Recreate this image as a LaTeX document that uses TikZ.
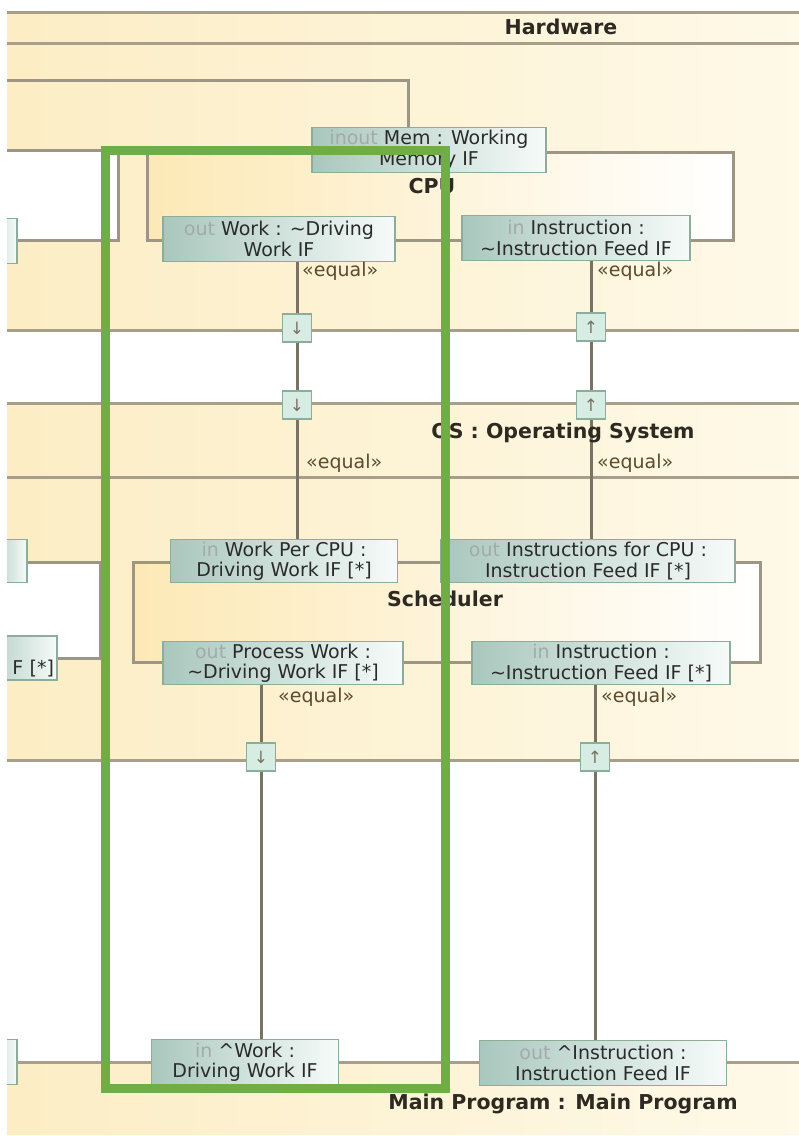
\documentclass[tikz,border=0pt]{standalone}
\usepackage{fontspec}
\setmainfont{DejaVu Sans}
\definecolor{regionL}{HTML}{FCEDC4}
\definecolor{regionR}{HTML}{FEF9E8}
\definecolor{lineGray}{HTML}{A89F8A}
\definecolor{partGray}{HTML}{9E9684}
\definecolor{partL}{HTML}{FDE9B6}
\definecolor{portL}{HTML}{A9C7BD}
\definecolor{portR}{HTML}{F6FBF9}
\definecolor{portEdge}{HTML}{8CAC9C}
\definecolor{portText}{HTML}{2B2B2B}
\definecolor{kwgray}{HTML}{A3ABAA}
\definecolor{flowFill}{HTML}{D7EDE4}
\definecolor{connGray}{HTML}{7A7262}
\definecolor{eqBrown}{HTML}{5C4B2C}
\definecolor{labelDark}{HTML}{2E2A22}
\definecolor{hlGreen}{HTML}{70AD47}
\newcommand\kw[1]{\textcolor{kwgray}{#1}}

\begin{document}
\begin{tikzpicture}[x=1pt,y=-1pt]
\tikzset{region/.style={left color=regionL, right color=regionR},
  regline/.style={draw=lineGray, line width=3pt},
  part/.style={draw=partGray, line width=3pt, left color=partL, right color=white},
  portbox/.style={draw=portEdge, line width=1.5pt, left color=portL, right color=portR,
    align=center, inner sep=0pt, minimum height=45pt,
    font=\fontsize{19}{20.5}\selectfont, text=portText},
  flowport/.style={draw=portEdge, line width=1.5pt, fill=flowFill, minimum width=29pt,
    minimum height=28pt, inner sep=0pt, font=\fontsize{17}{17}\selectfont, text=connGray},
  conn/.style={draw=connGray, line width=3pt},
  eqlabel/.style={font=\fontsize{19}{19}\selectfont, text=eqBrown, inner sep=0pt, anchor=west},
  partlabel/.style={font=\bfseries\fontsize{20.5}{20.5}\selectfont, text=labelDark, inner sep=0pt}}
\useasboundingbox (0,0) rectangle (799,1136);
\fill[white] (0,0) rectangle (799,1136);
\begin{scope}
\clip (7,0) rectangle (799,1136);
\fill[region] (7,12) rectangle (799,330);
\fill[region] (7,403) rectangle (799,760);
\fill[region] (7,1062) rectangle (799,1134);
\foreach \y in {12,43,330,403,477,760,1062}
  \draw[regline] (7,\y) -- (799,\y);
\draw[part, left color=white] (-10,150) rectangle (118,240);
\draw[part] (147,152) rectangle (733,240);
\draw[part] (133,562) rectangle (760,662);
\draw[part, left color=white] (-10,562) rectangle (100,658);

\node[portbox, minimum width=234pt] (mem) at (429,150) {\kw{inout} Mem : Working\\Memory IF};
\node[portbox, minimum width=232pt] (work) at (279,239) {\kw{out} Work : \textasciitilde Driving\\Work IF};
\node[portbox, minimum width=228pt] (instr) at (576,238) {\kw{in} Instruction :\\\textasciitilde Instruction Feed IF};
\node[portbox, minimum width=40pt] (leftTopPort) at (-3,241) {};
\node[portbox, minimum width=227pt, minimum height=43pt] (workPerCPU) at (284,561) {\kw{in} Work Per CPU :\\Driving Work IF [*]};
\node[portbox, minimum width=294pt, minimum height=43pt] (instrForCPU) at (588,561) {\kw{out} Instructions for CPU :\\Instruction Feed IF [*]};
\node[portbox, minimum width=240pt, minimum height=43pt] (processWork) at (283,663) {\kw{out} Process Work :\\\textasciitilde Driving Work IF [*]};
\node[portbox, minimum width=258pt, minimum height=43pt] (schedInstr) at (601,663) {\kw{in} Instruction :\\\textasciitilde Instruction Feed IF [*]};
\node[portbox, minimum width=40pt, minimum height=43pt] (leftInPort) at (7,561) {};
\node[portbox, minimum width=80pt, minimum height=44pt, align=right, text width=74pt] (leftOutPort) at (17,658) {\strut\\F [*]};
\node[portbox, minimum width=187pt] (mainWork) at (245,1062) {\kw{in} \textasciicircum Work :\\Driving Work IF};
\node[portbox, minimum width=247pt] (mainInstr) at (603,1063) {\kw{out} \textasciicircum Instruction :\\Instruction Feed IF};
\node[portbox, minimum width=40pt] (leftMainPort) at (-3,1062) {};

\node[flowport] (hwWork) at (297,328) {↓};
\node[flowport] (osWork) at (297,405) {↓};
\node[flowport] (hwInstr) at (591,327) {↑};
\node[flowport] (osInstr) at (591,405) {↑};
\node[flowport] (osProc) at (261,757) {↓};
\node[flowport] (osFeed) at (595,757) {↑};

\coordinate (memFar) at (7,80);
\coordinate (memBend) at (408,80);
\draw[draw=partGray, line width=3pt] (memFar) -- (memBend) -- (memBend |- mem.north);
\draw[conn] (work.south -| hwWork) -- (hwWork.north);
\draw[conn] (hwWork.south) -- (osWork.north);
\draw[conn] (osWork.south) -- (workPerCPU.north -| osWork);
\draw[conn] (instr.south -| hwInstr) -- (hwInstr.north);
\draw[conn] (hwInstr.south) -- (osInstr.north);
\draw[conn] (osInstr.south) -- (instrForCPU.north -| osInstr);
\draw[conn] (processWork.south -| osProc) -- (osProc.north);
\draw[conn] (osProc.south) -- (mainWork.north -| osProc);
\draw[conn] (schedInstr.south -| osFeed) -- (osFeed.north);
\draw[conn] (osFeed.south) -- (mainInstr.north -| osFeed);

\node[eqlabel] (eqHwWork) at (302,271) {«equal»};
\node[eqlabel] (eqOsWork) at (306,463) {«equal»};
\node[eqlabel] (eqHwInstr) at (597,271) {«equal»};
\node[eqlabel] (eqOsInstr) at (597,463) {«equal»};
\node[eqlabel] (eqProc) at (278,697) {«equal»};
\node[eqlabel] (eqFeed) at (601,697) {«equal»};

\node[partlabel] (hwLabel) at (561,27) {Hardware};
\node[partlabel] (cpuLabel) at (432,186) {CPU};
\node[partlabel] (osLabel) at (563,433) {OS : Operating System};
\node[partlabel] (schedLabel) at (445,599) {Scheduler};
\node[partlabel] (mainLabel) at (563,1104) {Main Program : Main Program};
\end{scope}
\draw[draw=hlGreen, line width=9pt] (105.5,150) rectangle (445,1088);
\end{tikzpicture}
\end{document}
